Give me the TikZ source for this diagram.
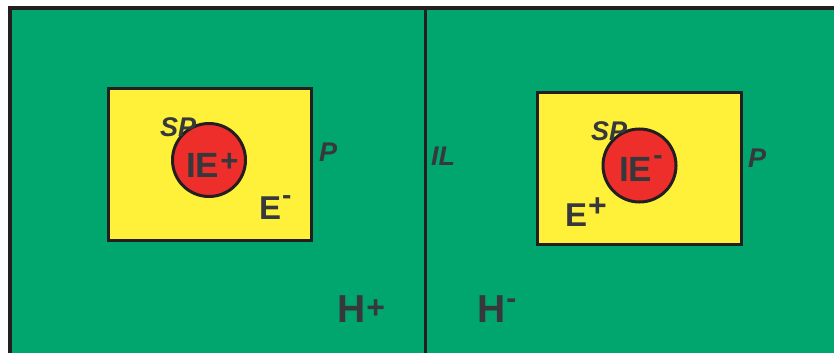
\documentclass[tikz,border=0pt]{standalone}
\usepackage{fontspec}
\setmainfont{Liberation Sans}
\definecolor{bggreen}{RGB}{0,166,110}
\definecolor{boxyellow}{RGB}{255,241,58}
\definecolor{cellred}{RGB}{237,46,43}
\definecolor{ink}{RGB}{55,56,60}
\definecolor{edge}{RGB}{35,31,32}
\newcommand\supp[2]{\kern1pt\raisebox{#2}{\fontsize{#1}{#1}\selectfont +}}
\newcommand\supm[2]{\kern1pt\raisebox{#2}{\fontsize{#1}{#1}\selectfont -}}
\begin{document}
\begin{tikzpicture}[x=1pt,y=-1pt,
  lab/.style={text=ink,font=\bfseries,inner sep=0pt,anchor=base west},
  big/.style={lab,font=\fontsize{39}{39}\selectfont\bfseries},
  mid/.style={lab,font=\fontsize{33}{33}\selectfont\bfseries},
  cellfont/.style={lab,font=\fontsize{35}{35}\selectfont\bfseries},
  ital/.style={lab,font=\fontsize{27}{27}\selectfont\bfseries\itshape},
  yellowbox/.style={fill=boxyellow,draw=edge,line width=3pt},
  cell/.style={fill=cellred,draw=edge,line width=3pt}]
\useasboundingbox (0,0) rectangle (834,353);
\fill[white] (0,0) rectangle (834,353);
\fill[bggreen] (10,8) rectangle (834,353);
\draw[edge,line width=4pt] (10,353) -- (10,8) -- (834,8);
\draw[edge,line width=3pt] (425,8) -- (425,353);
% left compartment
\draw[yellowbox] (108,88) rectangle (311,240);
\draw[cell] (209,160) circle (36.5);
\node[ital] (spl) at (160,136) {SP};
\node[cellfont] (iel) at (186,177) {IE\supp{31}{6pt}};
\node[mid] (el) at (259,219) {E\supm{28}{15pt}};
\node[ital] (pl) at (319,161) {P};
% divider label
\node[ital] (il) at (431,165) {IL};
\node[big] (hp) at (337,322) {H\supp{32}{4pt}};
\node[big] (hm) at (477,322) {H\supm{30}{14pt}};
% right compartment
\draw[yellowbox] (537,92) rectangle (741,244);
\draw[cell] (639.5,165.5) circle (36.5);
\node[ital] (spr) at (591,140) {SP};
\node[cellfont] (ier) at (619,181) {IE\supm{28}{17pt}};
\node[mid] (er) at (565,226) {E\supp{32}{10pt}};
\node[ital] (pr) at (748,167) {P};
\end{tikzpicture}
\end{document}
